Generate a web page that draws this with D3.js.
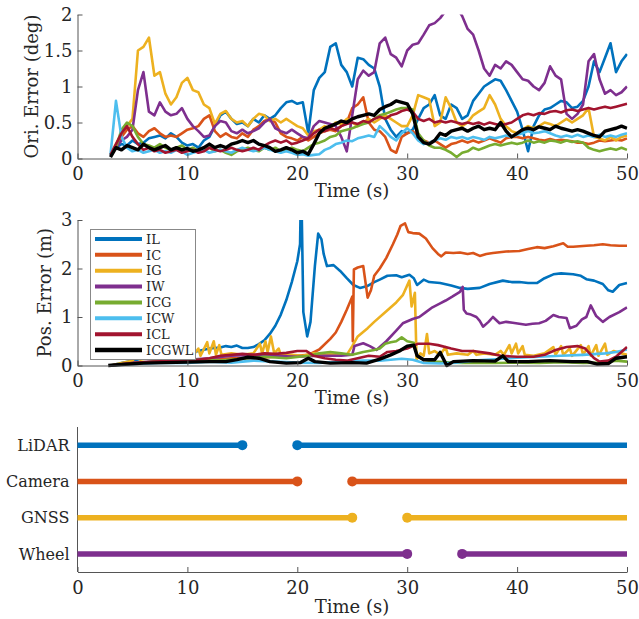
<!DOCTYPE html>
<html>
<head>
<meta charset="utf-8">
<script src="https://cdn.jsdelivr.net/npm/d3@7"></script>
<style>
body { margin: 0; background: #fff; }
svg text { font-family: "DejaVu Serif", serif; fill: #262626; }
</style>
</head>
<body>
<svg></svg>
<script>
// series shared by the two error plots
const seriesNames = ["IL", "IC", "IG", "IW", "ICG", "ICW", "ICL", "ICGWL"];
const seriesColors = ["#0072BD", "#D95319", "#EDB120", "#7E2F8E", "#77AC30", "#4DBEEE", "#A2142F", "#000000"];

// orientation error (deg), sampled every 0.5 s from 3 s to 50 s
const oriTime = d3.range(3, 50.001, 0.5);
const oriIL = [0.05,0.15,0.2,0.18,0.25,0.2,0.22,0.28,0.3,0.32,
  0.28,0.35,0.3,0.22,0.18,0.2,0.15,0.25,0.3,0.45,
  0.6,0.65,0.55,0.48,0.5,0.45,0.55,0.5,0.6,0.55,
  0.6,0.7,0.78,0.8,0.76,0.78,0.35,0.95,1.12,1.2,
  1.55,1.6,1.3,1.2,1.0,1.4,1.38,1.3,1.25,1.0,
  0.55,0.4,0.3,0.38,0.35,0.4,0.55,0.7,0.75,0.88,
  0.6,0.55,0.75,0.7,0.55,0.6,0.8,0.9,1.0,1.05,
  1.1,1.08,0.95,0.8,0.65,0.4,0.1,0.45,0.6,0.68,
  0.7,0.75,0.8,0.78,0.7,0.72,0.8,1.0,1.35,1.2,
  1.4,1.6,1.2,1.35,1.45];
const oriIC = [0.05,0.15,0.3,0.4,0.45,0.35,0.3,0.38,0.42,0.35,
  0.3,0.32,0.3,0.35,0.4,0.42,0.45,0.55,0.6,0.38,
  0.3,0.35,0.3,0.28,0.35,0.3,0.4,0.45,0.52,0.55,
  0.5,0.35,0.3,0.28,0.25,0.3,0.25,0.3,0.35,0.38,
  0.4,0.38,0.45,0.5,0.7,0.75,0.85,0.5,0.4,0.38,
  0.3,0.12,0.08,0.3,0.35,0.38,0.3,0.25,0.22,0.25,
  0.2,0.15,0.2,0.22,0.25,0.22,0.25,0.22,0.25,0.28,
  0.25,0.22,0.28,0.3,0.3,0.28,0.3,0.28,0.26,0.25,
  0.27,0.25,0.26,0.25,0.24,0.22,0.22,0.2,0.22,0.25,
  0.24,0.25,0.26,0.25,0.28];
const oriIG = [0.05,0.2,0.35,0.45,0.55,1.5,1.55,1.68,1.15,1.2,
  0.9,0.75,0.85,1.05,1.12,0.95,0.92,0.75,0.7,0.48,
  0.62,0.66,0.55,0.5,0.52,0.45,0.55,0.62,0.6,0.52,
  0.55,0.5,0.55,0.5,0.45,0.42,0.32,0.38,0.4,0.45,
  0.42,0.5,0.48,0.55,0.5,0.45,0.5,0.55,0.5,0.55,
  0.6,0.55,0.5,0.45,0.45,0.6,0.88,0.85,0.82,0.45,
  0.5,0.85,0.7,0.5,0.45,0.5,0.6,0.65,0.7,0.88,
  0.75,0.55,0.45,0.38,0.35,0.4,0.45,0.42,0.45,0.5,
  0.48,0.45,0.5,0.55,0.5,0.55,0.6,0.7,0.3,0.28,
  0.25,0.3,0.25,0.3,0.32];
const oriIW = [0.05,0.15,0.25,0.3,0.4,0.95,1.2,0.65,0.6,0.78,
  0.65,0.6,0.62,0.7,0.55,0.45,0.38,0.3,0.32,0.45,
  0.52,0.5,0.38,0.35,0.4,0.35,0.38,0.42,0.5,0.55,
  0.42,0.38,0.35,0.4,0.35,0.3,0.28,0.45,0.52,0.5,
  0.48,0.45,0.3,0.1,0.6,1.1,1.22,1.15,1.2,1.6,
  1.68,1.45,1.4,1.28,1.5,1.58,1.6,1.72,1.85,1.88,
  1.95,2.05,2.1,2.1,1.98,1.8,1.72,1.5,1.25,1.15,
  1.3,1.25,1.35,1.3,1.2,1.1,1.08,1.0,0.95,1.05,
  1.28,1.15,1.1,0.62,0.55,0.62,0.75,1.35,1.45,1.1,
  0.9,0.95,0.88,0.92,1.0];
const oriICG = [0.05,0.15,0.4,0.5,0.45,0.3,0.2,0.18,0.15,0.2,
  0.15,0.12,0.15,0.18,0.12,0.15,0.1,0.12,0.15,0.1,
  0.12,0.08,0.05,0.1,0.12,0.15,0.12,0.1,0.15,0.12,
  0.15,0.1,0.12,0.15,0.12,0.1,0.15,0.2,0.22,0.25,
  0.3,0.32,0.38,0.4,0.42,0.45,0.48,0.5,0.55,0.6,
  0.62,0.65,0.68,0.7,0.7,0.68,0.35,0.25,0.18,0.15,
  0.15,0.12,0.08,0.02,0.08,0.1,0.15,0.12,0.15,0.18,
  0.2,0.18,0.2,0.22,0.2,0.22,0.25,0.22,0.24,0.22,
  0.25,0.24,0.22,0.25,0.23,0.24,0.22,0.15,0.12,0.1,
  0.12,0.14,0.12,0.15,0.12];
const oriICW = [0.05,0.8,0.3,0.15,0.1,0.12,0.08,0.1,0.12,0.08,
  0.1,0.08,0.12,0.1,0.05,0.08,0.1,0.12,0.08,0.1,
  0.12,0.1,0.08,0.12,0.15,0.12,0.1,0.12,0.15,0.12,
  0.1,0.08,0.1,0.08,0.05,0.06,0.04,0.05,0.06,0.12,
  0.15,0.2,0.22,0.25,0.24,0.28,0.3,0.32,0.3,0.45,
  0.38,0.3,0.25,0.35,0.42,0.35,0.25,0.2,0.22,0.25,
  0.28,0.26,0.3,0.28,0.3,0.27,0.3,0.28,0.26,0.3,
  0.28,0.3,0.32,0.3,0.33,0.35,0.38,0.35,0.36,0.38,
  0.35,0.32,0.3,0.32,0.3,0.33,0.3,0.32,0.3,0.33,
  0.3,0.32,0.3,0.33,0.35];
const oriICL = [0.05,0.2,0.35,0.45,0.3,0.2,0.12,0.15,0.1,0.12,
  0.08,0.1,0.12,0.08,0.1,0.12,0.08,0.1,0.15,0.12,
  0.1,0.12,0.15,0.12,0.1,0.12,0.15,0.12,0.18,0.22,
  0.25,0.22,0.25,0.2,0.22,0.25,0.28,0.35,0.4,0.38,
  0.42,0.4,0.45,0.48,0.5,0.48,0.52,0.5,0.55,0.58,
  0.55,0.6,0.62,0.66,0.68,0.65,0.55,0.52,0.55,0.5,
  0.52,0.5,0.52,0.5,0.48,0.5,0.48,0.5,0.47,0.5,
  0.48,0.46,0.48,0.5,0.55,0.6,0.62,0.6,0.63,0.62,
  0.65,0.66,0.64,0.67,0.68,0.66,0.68,0.7,0.68,0.7,
  0.72,0.7,0.72,0.74,0.76];
const oriICGWL = [0.02,0.15,0.12,0.18,0.15,0.12,0.2,0.15,0.12,0.15,
  0.18,0.12,0.15,0.12,0.14,0.1,0.12,0.15,0.2,0.15,
  0.18,0.15,0.2,0.22,0.25,0.22,0.25,0.2,0.18,0.15,
  0.1,0.12,0.15,0.12,0.08,0.1,0.06,0.2,0.35,0.42,
  0.45,0.48,0.52,0.5,0.55,0.58,0.6,0.62,0.6,0.68,
  0.72,0.75,0.8,0.78,0.76,0.62,0.3,0.22,0.2,0.25,
  0.35,0.32,0.38,0.4,0.42,0.38,0.42,0.45,0.4,0.42,
  0.4,0.5,0.38,0.3,0.35,0.4,0.42,0.4,0.44,0.42,
  0.4,0.45,0.42,0.4,0.38,0.4,0.38,0.35,0.32,0.3,
  0.38,0.4,0.42,0.45,0.42];

// position error (m), [time, value] pairs
const posIL = [[3,0],[4,0.05],[5,0.1],[6,0.15],[7,0.18],[8,0.2],[9,0.22],[10,0.25],[11,0.3],[12,0.35],
  [13,0.37],[13.5,0.4],[14,0.38],[14.5,0.41],[15,0.36],[15.5,0.36],[16,0.38],[16.5,0.44],[17,0.52],[17.5,0.65],
  [18,0.82],[18.5,1.05],[19,1.35],[19.5,1.72],[20,2.15],[20.25,2.5],[20.3,3.2],[20.4,3.2],[20.55,1.1],[20.9,0.6],
  [21.2,0.9],[21.6,2.05],[21.9,2.72],[22.2,2.6],[22.4,2.3],[22.7,2.05],[23.3,2.07],[23.9,1.95],[24.5,1.8],[25.1,1.66],
  [25.7,1.6],[26.4,1.64],[27,1.72],[27.5,1.77],[28.2,1.85],[29,1.86],[29.5,1.82],[30.2,1.87],[30.6,1.8],[30.9,1.66],
  [31.5,1.77],[32,1.72],[33,1.7],[34,1.65],[34.8,1.6],[35.5,1.58],[36.6,1.6],[37.5,1.68],[38.7,1.75],[39.5,1.72],
  [40.2,1.72],[41,1.7],[41.8,1.7],[42.5,1.8],[43.3,1.88],[44,1.9],[45.1,1.88],[45.8,1.85],[46.3,1.78],[47,1.75],
  [47.8,1.68],[48.3,1.55],[48.7,1.52],[49.3,1.66],[50,1.7]];
const posIC = [[3,0],[5,0.05],[8,0.08],[10,0.1],[12,0.12],[14,0.15],[16,0.15],[18,0.18],[19,0.18],[20,0.2],
  [21,0.22],[22,0.33],[23,0.55],[23.5,0.68],[24,0.9],[24.5,1.15],[25,1.42],[25.05,0.5],[25.15,1.98],[25.5,2.02],
  [26,2.05],[26.4,1.4],[26.7,1.55],[27,1.85],[27.5,2.0],[28.1,2.22],[28.7,2.5],[29.1,2.7],[29.4,2.88],[29.8,2.93],
  [30.1,2.75],[30.5,2.73],[31.1,2.72],[31.7,2.62],[32.3,2.42],[32.8,2.3],[33.1,2.25],[33.5,2.33],[34.2,2.32],[34.8,2.33],
  [35.5,2.3],[36,2.32],[36.6,2.26],[37.2,2.3],[37.8,2.32],[39,2.35],[40.2,2.36],[41,2.4],[41.8,2.44],[42.5,2.42],
  [43.3,2.46],[44.2,2.52],[44.6,2.45],[45.1,2.45],[46.3,2.47],[47,2.48],[47.8,2.5],[48.5,2.48],[49.3,2.47],[50,2.47]];
const posIG = [[3,0],[4,0.05],[5,0.1],[5.5,0.25],[5.7,0.12],[6.5,0.15],[7,0.3],[7.2,0.15],[8,0.18],[9,0.2],
  [9.5,0.3],[9.7,0.18],[10.5,0.2],[11,0.35],[11.2,0.2],[11.8,0.48],[12,0.25],[12.4,0.5],[12.6,0.22],[12.9,0.42],
  [13.1,0.22],[14,0.25],[15,0.22],[16,0.25],[16.6,0.45],[16.8,0.25],[17.1,0.5],[17.3,0.28],[17.6,0.6],[17.9,0.25],
  [18.3,0.35],[18.5,0.22],[19.5,0.22],[20.5,0.2],[21.5,0.25],[22.5,0.22],[23.5,0.25],[24.5,0.22],[25,0.4],[25.5,0.6],
  [26.4,0.77],[27,0.9],[28.1,1.12],[29,1.3],[29.6,1.45],[30.2,1.75],[30.4,1.22],[30.7,1.5],[30.85,0.12],[31.2,0.25],
  [31.5,0.2],[31.8,0.65],[32,0.25],[32.5,0.3],[33,0.22],[33.5,0.38],[33.7,0.22],[34.5,0.25],[35.5,0.22],[36,0.3],
  [36.3,0.22],[37,0.25],[38,0.22],[38.5,0.3],[38.8,0.22],[39.3,0.42],[39.5,0.25],[39.9,0.45],[40.1,0.25],[40.5,0.4],
  [40.7,0.22],[41.5,0.2],[42.5,0.25],[43.3,0.38],[43.5,0.22],[44,0.4],[44.2,0.22],[44.8,0.35],[45,0.2],[45.8,0.42],
  [46,0.22],[46.5,0.4],[46.7,0.2],[47.2,0.42],[47.4,0.2],[48,0.45],[48.2,0.22],[48.8,0.3],[49.5,0.25],[50,0.22]];
const posIW = [[3,0],[5,0.05],[8,0.1],[10,0.12],[12,0.15],[14,0.2],[16,0.22],[18,0.2],[20,0.18],[22,0.2],
  [24,0.2],[25,0.22],[25.2,0.4],[26,0.46],[26.6,0.4],[27.2,0.32],[28.1,0.5],[29,0.72],[29.6,0.87],[30.5,0.96],
  [31.1,1.0],[31.7,1.1],[32.3,1.2],[33,1.28],[33.5,1.34],[34.1,1.42],[34.8,1.52],[35.05,1.62],[35.15,1.15],[35.4,1.07],
  [35.8,1.05],[36.3,1.0],[36.6,0.92],[36.9,0.8],[37.4,0.9],[37.8,1.0],[38.4,0.87],[39,0.9],[39.6,0.88],[40.2,0.86],
  [40.8,0.84],[41.4,0.86],[42,0.87],[42.6,0.92],[43.3,1.04],[43.8,1.0],[44.5,0.98],[44.8,0.77],[45.4,0.82],[45.9,0.95],
  [46.3,1.0],[46.7,1.24],[47.2,1.02],[47.8,0.9],[48.4,1.0],[49.3,1.1],[50,1.2]];
const posICG = [[3,0],[5,0.04],[7,0.08],[9,0.1],[11,0.12],[13,0.1],[15,0.14],[17,0.18],[19,0.15],[21,0.2],
  [22,0.25],[23,0.28],[24,0.25],[25,0.22],[26,0.28],[27,0.32],[27.5,0.35],[28,0.45],[28.5,0.48],[29,0.5],
  [29.5,0.58],[30,0.5],[30.6,0.47],[30.9,0.2],[31.5,0.12],[32.5,0.08],[34,0.06],[35,0.05],[36,0.06],[38,0.05],
  [40,0.06],[42,0.05],[44,0.07],[46,0.05],[48,0.06],[49,0.1],[50,0.08]];
const posICW = [[3,0],[5,0.03],[8,0.06],[10,0.05],[12,0.08],[14,0.06],[16,0.1],[18,0.08],[20,0.06],[22,0.05],
  [24,0.08],[26,0.1],[27.5,0.1],[28.5,0.12],[29.5,0.14],[30.5,0.12],[31.5,0.05],[33,0.04],[34.5,0.06],[36,0.1],
  [38,0.13],[40,0.16],[42,0.18],[44,0.2],[46,0.22],[48,0.25],[49,0.28],[50,0.33]];
const posICL = [[3,0],[5,0.05],[7,0.08],[9,0.1],[11,0.12],[12,0.15],[13,0.2],[14,0.22],[15,0.24],[16,0.22],
  [17,0.25],[18,0.24],[19,0.26],[20,0.3],[20.8,0.3],[21.5,0.2],[22.5,0.15],[23.5,0.12],[24.5,0.1],[25.5,0.15],
  [26.5,0.2],[27.5,0.18],[28.2,0.28],[29,0.3],[30,0.35],[31,0.45],[32,0.45],[32.8,0.42],[34,0.35],[35,0.3],
  [36,0.3],[37.5,0.25],[38.5,0.2],[40,0.18],[41.5,0.18],[42.5,0.22],[43.5,0.32],[44.5,0.38],[45.5,0.4],[46.2,0.35],
  [47,0.15],[47.5,0.08],[48.3,0.1],[49,0.18],[50,0.38]];
const posICGWL = [[2.8,0],[4,0.02],[6,0.05],[8,0.06],[10,0.07],[12,0.08],[13.5,0.08],[14.5,0.12],[15.5,0.17],[16.5,0.15],
  [17.5,0.08],[19,0.05],[20.3,0.06],[21,0.15],[21.6,0.08],[23,0.05],[25,0.06],[26.3,0.05],[27.5,0.13],[28.5,0.22],
  [29.3,0.3],[30,0.4],[30.6,0.42],[30.9,0.2],[31.5,0.12],[32.5,0.12],[33,0.27],[33.6,0.0],[34.2,0.08],[36,0.1],
  [38,0.09],[38.7,0.2],[39.2,0.08],[41,0.08],[43,0.1],[45,0.08],[46.4,0.08],[47.3,0.03],[48.3,0.04],[49,0.15],[50,0.18]];

// sensor availability (s)
const sensorNames = ["LiDAR", "Camera", "GNSS", "Wheel"];
const sensorOn = [[[0, 15], [20, 50]], [[0, 20], [25, 50]], [[0, 25], [30, 50]], [[0, 30], [35, 50]]];

const timeTicks = [0, 10, 20, 30, 40, 50];
const oriTicks = [0, 0.5, 1, 1.5, 2];
const posTicks = [0, 1, 2, 3];

window.onload = function() {

    const svgCanvas = d3.select("svg")
        .attr("width", 639)
        .attr("height", 619);

    const x = d3.scaleLinear().domain([0, 50]).range([77.5, 627]);
    const yOri = d3.scaleLinear().domain([0, 2]).range([158.5, 14.5]);
    const yPos = d3.scaleLinear().domain([0, 3]).range([365.5, 220]);
    const ySensor = d3.scalePoint().domain(sensorNames).range([427, 572]).padding(0.5);

    const oriData = [oriIL, oriIC, oriIG, oriIW, oriICG, oriICW, oriICL, oriICGWL]
        .map(vals => vals.map((v, i) => [oriTime[i], v]));
    const posData = [posIL, posIC, posIG, posIW, posICG, posICW, posICL, posICGWL];

    // axis styling like matlab: inward ticks, grey lines
    function styleAxis(g, size) {
        g.select(".domain").attr("stroke", "#555");
        g.selectAll(".tick line").attr("stroke", "#555");
        g.selectAll(".tick text").attr("font-size", size).attr("fill", "#262626");
    }

    function addXAxis(yBase, labelY) {
        const g = svgCanvas.append("g")
            .attr("transform", "translate(0," + yBase + ")")
            .call(d3.axisBottom(x).tickValues(timeTicks).tickSizeInner(-5).tickSizeOuter(0).tickPadding(9));
        styleAxis(g, 18);
        svgCanvas.append("text")
            .attr("x", 352)
            .attr("y", labelY)
            .attr("text-anchor", "middle")
            .attr("font-size", 18)
            .text("Time (s)");
    }

    function addPlot(y, ticks, data, clipId, label, labelX) {
        const yAxis = svgCanvas.append("g")
            .attr("transform", "translate(77.5,0)")
            .call(d3.axisLeft(y).tickValues(ticks).tickFormat(d => d).tickSizeInner(-5).tickSizeOuter(0).tickPadding(5));
        styleAxis(yAxis, 18);

        const top = y.range()[1], bottom = y.range()[0];
        svgCanvas.append("clipPath").attr("id", clipId)
            .append("rect")
            .attr("x", 77.5).attr("y", top)
            .attr("width", 550).attr("height", bottom - top + 3);

        const line = d3.line().x(d => x(d[0])).y(d => y(d[1]));
        svgCanvas.append("g")
            .attr("clip-path", "url(#" + clipId + ")")
            .selectAll("path")
            .data(data)
            .join("path")
            .attr("d", line)
            .attr("fill", "none")
            .attr("stroke", (d, i) => seriesColors[i])
            .attr("stroke-width", (d, i) => i == 7 ? 3.4 : 2.6)
            .attr("stroke-linejoin", "round");

        svgCanvas.append("text")
            .attr("transform", "translate(" + labelX + "," + (top + bottom) / 2 + ") rotate(-90)")
            .attr("dy", "0.35em")
            .attr("text-anchor", "middle")
            .attr("font-size", 18)
            .text(label);
    }

    // top: orientation error
    addPlot(yOri, oriTicks, oriData, "clipOri", "Ori. Error (deg)", 32);
    addXAxis(158.5, 197);

    // middle: position error
    addPlot(yPos, posTicks, posData, "clipPos", "Pos. Error (m)", 45);
    addXAxis(365.5, 404);

    // legend
    const legend = svgCanvas.append("g");
    legend.append("rect")
        .attr("x", 90.5).attr("y", 229.5)
        .attr("width", 105).attr("height", 130)
        .attr("fill", "#fff")
        .attr("stroke", "#888");
    seriesNames.forEach(function(name, i) {
        const ly = 239 + i * 15.86;
        legend.append("line")
            .attr("x1", 95).attr("x2", 142)
            .attr("y1", ly).attr("y2", ly)
            .attr("stroke", seriesColors[i])
            .attr("stroke-width", i == 7 ? 4.5 : 4);
        legend.append("text")
            .attr("x", 146).attr("y", ly)
            .attr("dy", "0.36em")
            .attr("font-size", 13)
            .text(name);
    });

    // bottom: sensor availability
    const sAxis = svgCanvas.append("g")
        .attr("transform", "translate(77.5,0)")
        .call(d3.axisLeft(ySensor).tickSizeInner(-5).tickSizeOuter(0).tickPadding(8));
    sAxis.select(".domain").attr("d", "M0,427V572");
    styleAxis(sAxis, 16);
    addXAxis(572, 613);

    sensorNames.forEach(function(name, i) {
        const segs = sensorOn[i];
        svgCanvas.append("g")
            .selectAll("line")
            .data(segs)
            .join("line")
            .attr("x1", d => x(d[0]))
            .attr("x2", d => x(d[1]))
            .attr("y1", ySensor(name))
            .attr("y2", ySensor(name))
            .attr("stroke", seriesColors[i])
            .attr("stroke-width", 5.5);
        // dots where the sensor drops out and comes back
        svgCanvas.append("g")
            .selectAll("circle")
            .data([segs[0][1], segs[1][0]])
            .join("circle")
            .attr("cx", d => x(d))
            .attr("cy", ySensor(name))
            .attr("r", 5)
            .attr("fill", seriesColors[i]);
    });
}
</script>
</body>
</html>
